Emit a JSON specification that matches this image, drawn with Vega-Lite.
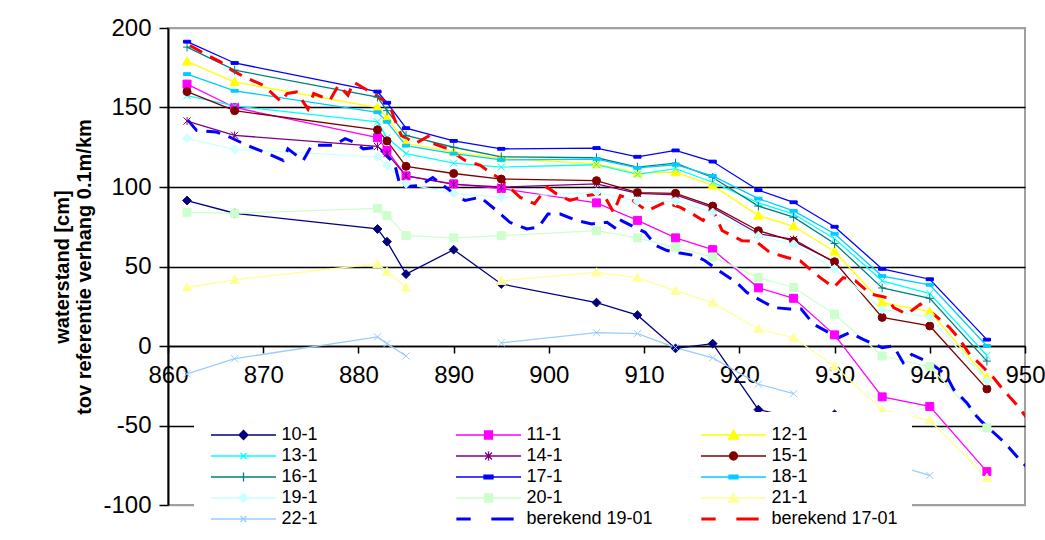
{
  "$schema": "https://vega.github.io/schema/vega-lite/v6.json",
  "width": 857,
  "height": 477,
  "autosize": "none",
  "padding": {"left": 168, "top": 28, "right": 20, "bottom": 35},
  "background": "white",
  "config": {
    "view": {"stroke": "#a0a0a0", "strokeWidth": 2},
    "font": "Liberation Sans",
    "axis": {"labelFont": "Liberation Sans", "labelColor": "black", "domainColor": "black", "tickColor": "black", "titleColor": "black", "titleFont": "Liberation Sans"}
  },
  "data": {"values": [
    {"s":"10-1","km":862,"v":91.5},{"s":"10-1","km":867,"v":83.5},{"s":"10-1","km":882,"v":73.6},{"s":"10-1","km":883,"v":65.6},{"s":"10-1","km":885,"v":45.2},{"s":"10-1","km":890,"v":60.6},{"s":"10-1","km":895,"v":39},{"s":"10-1","km":905,"v":27.3},{"s":"10-1","km":909.3,"v":19.4},{"s":"10-1","km":913.3,"v":-1.5},{"s":"10-1","km":917.2,"v":1.5},{"s":"10-1","km":922,"v":-40},{"s":"10-1","km":925.7,"v":-45},{"s":"10-1","km":930,"v":-43},{"s":"10-1","km":935,"v":-104},
    {"s":"11-1","km":862,"v":164.7},{"s":"11-1","km":867,"v":150},{"s":"11-1","km":882,"v":131},{"s":"11-1","km":883,"v":123},{"s":"11-1","km":885,"v":107},{"s":"11-1","km":890,"v":102},{"s":"11-1","km":895,"v":99},{"s":"11-1","km":905,"v":90},{"s":"11-1","km":909.3,"v":79},{"s":"11-1","km":913.3,"v":68},{"s":"11-1","km":917.2,"v":60.6},{"s":"11-1","km":922,"v":36.6},{"s":"11-1","km":925.7,"v":30},{"s":"11-1","km":930,"v":7},{"s":"11-1","km":935,"v":-32},{"s":"11-1","km":940,"v":-38},{"s":"11-1","km":946,"v":-79},
    {"s":"12-1","km":862,"v":179},{"s":"12-1","km":867,"v":166},{"s":"12-1","km":882,"v":150},{"s":"12-1","km":883,"v":143.5},{"s":"12-1","km":885,"v":127.5},{"s":"12-1","km":890,"v":122},{"s":"12-1","km":895,"v":118},{"s":"12-1","km":905,"v":114.6},{"s":"12-1","km":909.3,"v":108.7},{"s":"12-1","km":913.3,"v":109.4},{"s":"12-1","km":917.2,"v":101},{"s":"12-1","km":922,"v":82},{"s":"12-1","km":925.7,"v":75.3},{"s":"12-1","km":930,"v":59.5},{"s":"12-1","km":935,"v":27.3},{"s":"12-1","km":940,"v":21.6},{"s":"12-1","km":946,"v":-20},
    {"s":"13-1","km":862,"v":157.5},{"s":"13-1","km":867,"v":151},{"s":"13-1","km":882,"v":141},{"s":"13-1","km":883,"v":131},{"s":"13-1","km":885,"v":121},{"s":"13-1","km":890,"v":115},{"s":"13-1","km":895,"v":112.5},{"s":"13-1","km":905,"v":114},{"s":"13-1","km":909.3,"v":108},{"s":"13-1","km":913.3,"v":111.5},{"s":"13-1","km":917.2,"v":103},{"s":"13-1","km":922,"v":90},{"s":"13-1","km":925.7,"v":83},{"s":"13-1","km":930,"v":67.5},{"s":"13-1","km":935,"v":41},{"s":"13-1","km":940,"v":33},{"s":"13-1","km":946,"v":-6},
    {"s":"14-1","km":862,"v":141.5},{"s":"14-1","km":867,"v":132.5},{"s":"14-1","km":882,"v":125.5},{"s":"14-1","km":883,"v":121},{"s":"14-1","km":885,"v":107},{"s":"14-1","km":890,"v":101.6},{"s":"14-1","km":895,"v":100},{"s":"14-1","km":905,"v":102},{"s":"14-1","km":909.3,"v":96},{"s":"14-1","km":913.3,"v":95},{"s":"14-1","km":917.2,"v":87},{"s":"14-1","km":922,"v":70.6},{"s":"14-1","km":925.7,"v":67},{"s":"14-1","km":930,"v":52.5},
    {"s":"15-1","km":862,"v":160},{"s":"15-1","km":867,"v":148},{"s":"15-1","km":882,"v":136},{"s":"15-1","km":883,"v":129},{"s":"15-1","km":885,"v":113},{"s":"15-1","km":890,"v":108.5},{"s":"15-1","km":895,"v":105},{"s":"15-1","km":905,"v":104},{"s":"15-1","km":909.3,"v":96.5},{"s":"15-1","km":913.3,"v":96},{"s":"15-1","km":917.2,"v":88},{"s":"15-1","km":922,"v":72.5},{"s":"15-1","km":925.7,"v":66},{"s":"15-1","km":930,"v":53},{"s":"15-1","km":935,"v":18},{"s":"15-1","km":940,"v":12.6},{"s":"15-1","km":946,"v":-27},
    {"s":"16-1","km":862,"v":188},{"s":"16-1","km":867,"v":173.5},{"s":"16-1","km":882,"v":156.5},{"s":"16-1","km":883,"v":148},{"s":"16-1","km":885,"v":132.5},{"s":"16-1","km":890,"v":125},{"s":"16-1","km":895,"v":119},{"s":"16-1","km":905,"v":118.4},{"s":"16-1","km":909.3,"v":112.5},{"s":"16-1","km":913.3,"v":115},{"s":"16-1","km":917.2,"v":106},{"s":"16-1","km":922,"v":88},{"s":"16-1","km":925.7,"v":81},{"s":"16-1","km":930,"v":64.5},{"s":"16-1","km":935,"v":36.5},{"s":"16-1","km":940,"v":30},{"s":"16-1","km":946,"v":-9.5},
    {"s":"17-1","km":862,"v":191.4},{"s":"17-1","km":867,"v":178},{"s":"17-1","km":882,"v":160},{"s":"17-1","km":883,"v":153},{"s":"17-1","km":885,"v":137},{"s":"17-1","km":890,"v":129},{"s":"17-1","km":895,"v":124},{"s":"17-1","km":905,"v":124.5},{"s":"17-1","km":909.3,"v":119},{"s":"17-1","km":913.3,"v":123},{"s":"17-1","km":917.2,"v":116},{"s":"17-1","km":922,"v":98},{"s":"17-1","km":925.7,"v":90.4},{"s":"17-1","km":930,"v":75},{"s":"17-1","km":935,"v":48.5},{"s":"17-1","km":940,"v":42},{"s":"17-1","km":946,"v":4},
    {"s":"18-1","km":862,"v":171},{"s":"18-1","km":867,"v":160.5},{"s":"18-1","km":882,"v":147},{"s":"18-1","km":883,"v":141},{"s":"18-1","km":885,"v":126},{"s":"18-1","km":890,"v":121},{"s":"18-1","km":895,"v":117},{"s":"18-1","km":905,"v":117.5},{"s":"18-1","km":909.3,"v":112},{"s":"18-1","km":913.3,"v":114},{"s":"18-1","km":917.2,"v":107},{"s":"18-1","km":922,"v":92.7},{"s":"18-1","km":925.7,"v":85},{"s":"18-1","km":930,"v":70.6},{"s":"18-1","km":935,"v":44},{"s":"18-1","km":940,"v":38.5},{"s":"18-1","km":946,"v":0},
    {"s":"19-1","km":862,"v":130.6},{"s":"19-1","km":867,"v":123.7},{"s":"19-1","km":882,"v":119},{"s":"19-1","km":883,"v":113.6},{"s":"19-1","km":885,"v":102},{"s":"19-1","km":890,"v":96},{"s":"19-1","km":895,"v":93.6},{"s":"19-1","km":905,"v":96.7},{"s":"19-1","km":909.3,"v":91},{"s":"19-1","km":913.3,"v":91},{"s":"19-1","km":917.2,"v":84},{"s":"19-1","km":922,"v":69.4},{"s":"19-1","km":925.7,"v":64},{"s":"19-1","km":930,"v":48.5},{"s":"19-1","km":935,"v":23},{"s":"19-1","km":940,"v":18},{"s":"19-1","km":946,"v":-22},
    {"s":"20-1","km":862,"v":84},{"s":"20-1","km":867,"v":83.5},{"s":"20-1","km":882,"v":86.5},{"s":"20-1","km":883,"v":82},{"s":"20-1","km":885,"v":69.4},{"s":"20-1","km":890,"v":68},{"s":"20-1","km":895,"v":69.4},{"s":"20-1","km":905,"v":72.5},{"s":"20-1","km":909.3,"v":68},{"s":"20-1","km":913.3,"v":62},{"s":"20-1","km":917.2,"v":56},{"s":"20-1","km":922,"v":43},{"s":"20-1","km":925.7,"v":36.8},{"s":"20-1","km":930,"v":20},{"s":"20-1","km":935,"v":-6.3},{"s":"20-1","km":940,"v":-13},{"s":"20-1","km":946,"v":-51.5},
    {"s":"21-1","km":862,"v":36.8},{"s":"21-1","km":867,"v":41.6},{"s":"21-1","km":882,"v":51.7},{"s":"21-1","km":883,"v":46.7},{"s":"21-1","km":885,"v":36.8},{"s":"21-1","km":890,"v":null},{"s":"21-1","km":895,"v":41},{"s":"21-1","km":905,"v":46.3},{"s":"21-1","km":909.3,"v":43},{"s":"21-1","km":913.3,"v":34.7},{"s":"21-1","km":917.2,"v":27.3},{"s":"21-1","km":922,"v":10.7},{"s":"21-1","km":925.7,"v":5.2},{"s":"21-1","km":930,"v":-12.6},{"s":"21-1","km":935,"v":-40.4},{"s":"21-1","km":940,"v":-46.7},{"s":"21-1","km":946,"v":-83},
    {"s":"22-1","km":862,"v":-17.5},{"s":"22-1","km":867,"v":-8},{"s":"22-1","km":882,"v":5.7},{"s":"22-1","km":883,"v":1.5},{"s":"22-1","km":885,"v":-6.3},{"s":"22-1","km":890,"v":null},{"s":"22-1","km":895,"v":2},{"s":"22-1","km":905,"v":8.4},{"s":"22-1","km":909.3,"v":7.8},{"s":"22-1","km":913.3,"v":-1},{"s":"22-1","km":917.2,"v":-7.4},{"s":"22-1","km":922,"v":-24},{"s":"22-1","km":925.7,"v":-30},{"s":"22-1","km":930,"v":null},{"s":"22-1","km":935,"v":-72.6},{"s":"22-1","km":940,"v":-81.4},
    {"s":"berekend 19-01","km":862.1,"v":141.9},{"s":"berekend 19-01","km":863,"v":135.6},{"s":"berekend 19-01","km":865.1,"v":134.6},{"s":"berekend 19-01","km":866.5,"v":131.4},{"s":"berekend 19-01","km":868.3,"v":126.2},{"s":"berekend 19-01","km":870.5,"v":121},{"s":"berekend 19-01","km":872.1,"v":116.7},{"s":"berekend 19-01","km":872.6,"v":124},{"s":"berekend 19-01","km":874.2,"v":116.7},{"s":"berekend 19-01","km":875.1,"v":126.2},{"s":"berekend 19-01","km":877.4,"v":126.2},{"s":"berekend 19-01","km":878.6,"v":130.4},{"s":"berekend 19-01","km":879.5,"v":128.3},{"s":"berekend 19-01","km":880.5,"v":124},{"s":"berekend 19-01","km":882.1,"v":125},{"s":"berekend 19-01","km":883.1,"v":118.8},{"s":"berekend 19-01","km":883.8,"v":114.6},{"s":"berekend 19-01","km":884.4,"v":100},{"s":"berekend 19-01","km":886.5,"v":101},{"s":"berekend 19-01","km":887.8,"v":106},{"s":"berekend 19-01","km":890.3,"v":94.6},{"s":"berekend 19-01","km":891.2,"v":91.5},{"s":"berekend 19-01","km":892.8,"v":93.6},{"s":"berekend 19-01","km":894.5,"v":85.2},{"s":"berekend 19-01","km":895.9,"v":77.8},{"s":"berekend 19-01","km":897.7,"v":73.6},{"s":"berekend 19-01","km":898.9,"v":74.7},{"s":"berekend 19-01","km":899.9,"v":83},{"s":"berekend 19-01","km":901.2,"v":83},{"s":"berekend 19-01","km":902.9,"v":78.9},{"s":"berekend 19-01","km":904.5,"v":76.8},{"s":"berekend 19-01","km":906.1,"v":77.8},{"s":"berekend 19-01","km":907.1,"v":73.6},{"s":"berekend 19-01","km":907.6,"v":78.9},{"s":"berekend 19-01","km":910.1,"v":71.5},{"s":"berekend 19-01","km":911.3,"v":63},{"s":"berekend 19-01","km":912.4,"v":60},{"s":"berekend 19-01","km":915.4,"v":56.8},{"s":"berekend 19-01","km":916.4,"v":53.6},{"s":"berekend 19-01","km":917.6,"v":48.4},{"s":"berekend 19-01","km":919.7,"v":40},{"s":"berekend 19-01","km":920.8,"v":33.6},{"s":"berekend 19-01","km":921.7,"v":30.5},{"s":"berekend 19-01","km":923.6,"v":24.2},{"s":"berekend 19-01","km":925.3,"v":23.2},{"s":"berekend 19-01","km":926.5,"v":23.2},{"s":"berekend 19-01","km":927.8,"v":13.7},{"s":"berekend 19-01","km":929.4,"v":8.4},{"s":"berekend 19-01","km":930.4,"v":5.2},{"s":"berekend 19-01","km":931.6,"v":8.4},{"s":"berekend 19-01","km":933,"v":4.2},{"s":"berekend 19-01","km":935,"v":-1},{"s":"berekend 19-01","km":936.2,"v":0},{"s":"berekend 19-01","km":937.2,"v":-10.5},{"s":"berekend 19-01","km":938.1,"v":-5.3},{"s":"berekend 19-01","km":940,"v":-10.5},{"s":"berekend 19-01","km":941.7,"v":-18},{"s":"berekend 19-01","km":942.5,"v":-27.3},{"s":"berekend 19-01","km":943.9,"v":-35.8},{"s":"berekend 19-01","km":944.9,"v":-44},{"s":"berekend 19-01","km":945.4,"v":-47.3},{"s":"berekend 19-01","km":947.9,"v":-61},{"s":"berekend 19-01","km":949.3,"v":-70.5},{"s":"berekend 19-01","km":950.5,"v":-78},
    {"s":"berekend 17-01","km":862.3,"v":189},{"s":"berekend 17-01","km":864.1,"v":183},{"s":"berekend 17-01","km":865.5,"v":178.7},{"s":"berekend 17-01","km":866.7,"v":173.5},{"s":"berekend 17-01","km":868.1,"v":169},{"s":"berekend 17-01","km":870,"v":164},{"s":"berekend 17-01","km":871.9,"v":153.5},{"s":"berekend 17-01","km":872.5,"v":158.8},{"s":"berekend 17-01","km":873.5,"v":159.8},{"s":"berekend 17-01","km":874.7,"v":149},{"s":"berekend 17-01","km":875.3,"v":158.8},{"s":"berekend 17-01","km":877,"v":154.6},{"s":"berekend 17-01","km":877.9,"v":164},{"s":"berekend 17-01","km":878.9,"v":157.7},{"s":"berekend 17-01","km":879.5,"v":166},{"s":"berekend 17-01","km":880.9,"v":161},{"s":"berekend 17-01","km":881.9,"v":157.7},{"s":"berekend 17-01","km":883.3,"v":151.4},{"s":"berekend 17-01","km":883.7,"v":144},{"s":"berekend 17-01","km":884.5,"v":132.5},{"s":"berekend 17-01","km":886,"v":127.4},{"s":"berekend 17-01","km":887.5,"v":132.5},{"s":"berekend 17-01","km":888,"v":127},{"s":"berekend 17-01","km":889.3,"v":124.3},{"s":"berekend 17-01","km":891.2,"v":116.7},{"s":"berekend 17-01","km":892.8,"v":113.6},{"s":"berekend 17-01","km":894,"v":108.5},{"s":"berekend 17-01","km":894.9,"v":105},{"s":"berekend 17-01","km":897,"v":93.4},{"s":"berekend 17-01","km":898.5,"v":89.5},{"s":"berekend 17-01","km":899.8,"v":99.9},{"s":"berekend 17-01","km":900.8,"v":95.7},{"s":"berekend 17-01","km":902.2,"v":91.5},{"s":"berekend 17-01","km":904,"v":94.6},{"s":"berekend 17-01","km":905.7,"v":95.9},{"s":"berekend 17-01","km":906.8,"v":84},{"s":"berekend 17-01","km":907.5,"v":94.6},{"s":"berekend 17-01","km":908.8,"v":91.5},{"s":"berekend 17-01","km":910.3,"v":85},{"s":"berekend 17-01","km":912.2,"v":90.4},{"s":"berekend 17-01","km":913.8,"v":87.2},{"s":"berekend 17-01","km":915.1,"v":83},{"s":"berekend 17-01","km":916.2,"v":78.9},{"s":"berekend 17-01","km":917.1,"v":87.2},{"s":"berekend 17-01","km":918.2,"v":72.6},{"s":"berekend 17-01","km":920.3,"v":66.2},{"s":"berekend 17-01","km":921.7,"v":66},{"s":"berekend 17-01","km":923.2,"v":58.9},{"s":"berekend 17-01","km":925,"v":55.7},{"s":"berekend 17-01","km":926.4,"v":53.5},{"s":"berekend 17-01","km":927.2,"v":49.4},{"s":"berekend 17-01","km":928.5,"v":43},{"s":"berekend 17-01","km":929.9,"v":36.8},{"s":"berekend 17-01","km":930.9,"v":43},{"s":"berekend 17-01","km":932.2,"v":41},{"s":"berekend 17-01","km":933.8,"v":32.6},{"s":"berekend 17-01","km":935.5,"v":30.5},{"s":"berekend 17-01","km":936.2,"v":24.2},{"s":"berekend 17-01","km":937.6,"v":20},{"s":"berekend 17-01","km":939,"v":26.3},{"s":"berekend 17-01","km":940.4,"v":20},{"s":"berekend 17-01","km":942.1,"v":11.5},{"s":"berekend 17-01","km":943,"v":5.2},{"s":"berekend 17-01","km":944.2,"v":-5.3},{"s":"berekend 17-01","km":945.3,"v":-11.5},{"s":"berekend 17-01","km":946.7,"v":-20},{"s":"berekend 17-01","km":947.7,"v":-27.4},{"s":"berekend 17-01","km":949.1,"v":-36.8},{"s":"berekend 17-01","km":950.3,"v":-46}
  ]},
  "encoding": {
    "x": {"field": "km", "type": "quantitative",
      "scale": {"domain": [860, 950], "nice": false, "zero": false},
      "axis": {"orient": "bottom", "offset": -159, "values": [860,870,880,890,900,910,920,930,940,950], "grid": false, "title": null, "domainWidth": 1.5, "tickSize": 7, "tickWidth": 1.5, "labelFontSize": 24, "labelPadding": 10, "labelFlush": false}},
    "y": {"field": "v", "type": "quantitative",
      "scale": {"domain": [-100, 200], "nice": false},
      "axis": {"values": [-100,-50,0,50,100,150,200], "grid": true,
        "gridColor": {"condition": {"test": "datum.value == 200 || datum.value == -100", "value": "#a0a0a0"}, "value": "black"},
        "labelExpr": "datum.value < 0 ? '-' + abs(datum.value) : '' + datum.value",
        "gridWidth": 1.5, "domainWidth": 2, "tickSize": 9, "tickWidth": 1.5, "labelFontSize": 24, "labelPadding": 8,
        "title": ["waterstand [cm]", "tov referentie verhang 0.1m/km"], "titleFontSize": 20, "titleFontWeight": "bold", "titlePadding": 8, "titleLineHeight": 22}}
  },
  "layer": [
    {
      "transform": [{"filter": "indexof(datum.s, 'berekend') < 0"}],
      "mark": {"type": "line", "strokeWidth": 1.3, "clip": true},
      "encoding": {
        "color": {"field": "s", "type": "nominal",
          "scale": {"domain": ["10-1","11-1","12-1","13-1","14-1","15-1","16-1","17-1","18-1","19-1","20-1","21-1","22-1","berekend 19-01","berekend 17-01"],
                    "range": ["#000080","#FF00FF","#FFFF00","#00FFFF","#800080","#800000","#008080","#0000FF","#00CCFF","#CCFFFF","#CCFFCC","#FFFF99","#99CCFF","#0000FF","#FF0000"]},
          "legend": {"orient": "none", "legendX": 26, "legendY": 384, "direction": "horizontal", "columns": 3, "gridAlign": "all", "title": null,
            "fillColor": "white", "padding": 14, "columnPadding": 45, "rowPadding": 3,
            "symbolSize": 100, "symbolOffset": 26.5, "labelOffset": 29, "symbolStrokeWidth": 1.3,
            "labelFont": "Liberation Sans", "labelFontSize": 18, "labelColor": "black", "labelLimit": 400,
            "encode": {"symbols": {"update": {
              "shape": {"signal": "['M-6.5,0H6.5M-0.9,0L0,-0.9L0.9,0L0,0.9Z','M-6.5,0H6.5M-0.8,-0.8H0.8V0.8H-0.8Z','M-6.5,0H6.5M0,-1L1,0.8H-1Z','M-6.5,0H6.5M-0.6,-0.6L0.6,0.6M-0.6,0.6L0.6,-0.6','M-6.5,0H6.5M-0.7,-0.7L0.7,0.7M-0.7,0.7L0.7,-0.7M0,-0.9V0.9','M-6.5,0H6.5M-0.8,0A0.8,0.8 0 1,0 0.8,0A0.8,0.8 0 1,0 -0.8,0Z','M-6.5,0H6.5M0,-0.9V0.9','M-6.5,0H6.5M-0.9,-0.35H0.9V0.35H-0.9Z','M-6.5,0H6.5M-0.9,-0.35H0.9V0.35H-0.9Z','M-6.5,0H6.5M-0.9,0L0,-0.9L0.9,0L0,0.9Z','M-6.5,0H6.5M-0.8,-0.8H0.8V0.8H-0.8Z','M-6.5,0H6.5M0,-1L1,0.8H-1Z','M-6.5,0H6.5M-0.6,-0.6L0.6,0.6M-0.6,0.6L0.6,-0.6','M-6.3,-0.18H-3.7V0.18H-6.3ZM0.7,-0.18H4.9V0.18H0.7Z','M-6.3,-0.18H-3.7V0.18H-6.3ZM0.7,-0.18H4.9V0.18H0.7Z'][indexof(['10-1','11-1','12-1','13-1','14-1','15-1','16-1','17-1','18-1','19-1','20-1','21-1','22-1','berekend 19-01','berekend 17-01'], datum.value)]"},
              "fill": {"scale": "color", "field": "value"},
              "fillOpacity": {"value": 1},
              "stroke": {"scale": "color", "field": "value"},
              "opacity": {"value": 1}
            }}}}
        }
      }
    },
    {
      "transform": [{"filter": "indexof(datum.s, 'berekend') == 0"}],
      "mark": {"type": "line", "strokeWidth": 3, "strokeDash": [14, 9], "clip": true},
      "encoding": {
        "color": {"field": "s", "type": "nominal"}
      }
    },
    {
      "transform": [{"filter": "indexof(datum.s, 'berekend') < 0 && isValid(datum.v)"}],
      "mark": {"type": "point", "filled": true, "size": 64, "strokeWidth": 1, "opacity": 1, "clip": true},
      "encoding": {
        "fill": {"field": "s", "type": "nominal", "legend": null,
          "scale": {"domain": ["10-1","11-1","12-1","13-1","14-1","15-1","16-1","17-1","18-1","19-1","20-1","21-1","22-1"],
                    "range": ["#000080","#FF00FF","#FFFF00","#00FFFF","#800080","#800000","#008080","#0000FF","#00CCFF","#CCFFFF","#CCFFCC","#FFFF99","#99CCFF"]}},
        "stroke": {"field": "s", "type": "nominal", "legend": null,
          "scale": {"domain": ["10-1","11-1","12-1","13-1","14-1","15-1","16-1","17-1","18-1","19-1","20-1","21-1","22-1"],
                    "range": ["#000080","#FF00FF","#FFFF00","#00FFFF","#800080","#800000","#008080","#0000FF","#00CCFF","#CCFFFF","#CCFFCC","#FFFF99","#99CCFF"]}},
        "shape": {"field": "s", "type": "nominal", "legend": null,
          "scale": {"domain": ["10-1","11-1","12-1","13-1","14-1","15-1","16-1","17-1","18-1","19-1","20-1","21-1","22-1"],
                    "range": ["M-1.1,0L0,-1.1L1.1,0L0,1.1Z","M-1,-1H1V1H-1Z","M0,-1.15L1.15,0.9H-1.15Z","M-0.9,-0.9L0.9,0.9M-0.9,0.9L0.9,-0.9","M-0.9,-0.9L0.9,0.9M-0.9,0.9L0.9,-0.9M0,-1V1","circle","M-1,0H1M0,-1.1V1.1","M-0.9,-0.35H0.9V0.35H-0.9Z","M-0.9,-0.35H0.9V0.35H-0.9Z","M-1.1,0L0,-1.1L1.1,0L0,1.1Z","M-1,-1H1V1H-1Z","M0,-1.15L1.15,0.9H-1.15Z","M-0.9,-0.9L0.9,0.9M-0.9,0.9L0.9,-0.9"]}}
      }
    }
  ]
}
